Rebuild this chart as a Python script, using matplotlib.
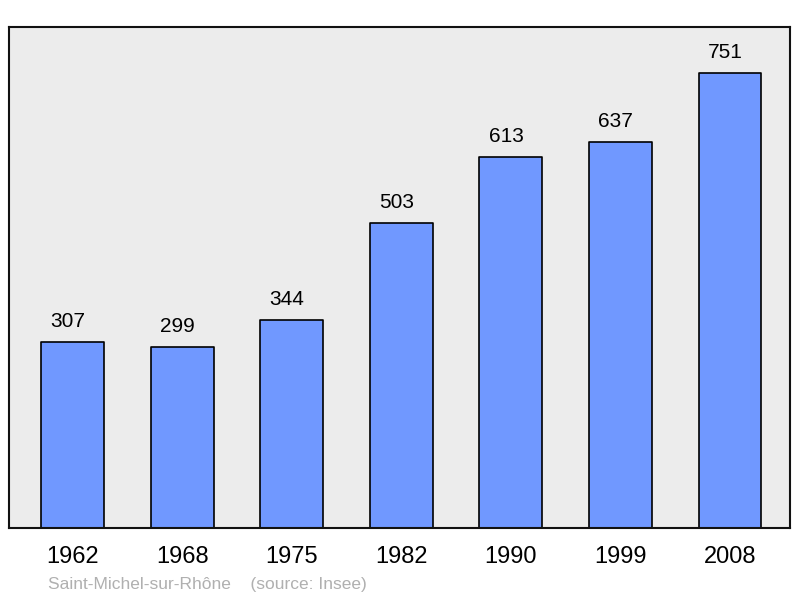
import matplotlib
matplotlib.use("Agg")
import matplotlib.pyplot as plt

years = ["1962", "1968", "1975", "1982", "1990", "1999", "2008"]
population = [307, 299, 344, 503, 613, 637, 751]

plt.rcParams['font.family'] = ['Liberation Sans', 'DejaVu Sans']

fig = plt.figure(figsize=(8, 5.98), dpi=100)
ax = fig.add_axes([9/800, 1-528/598, 781/800, 501/598])
ax.set_facecolor('#ececec')
x = list(range(len(years)))
bars = ax.bar(x, population, width=0.575, color='#7098ff', edgecolor='black', linewidth=1.2)
for b in bars:
    b.set_joinstyle('round')
for xi, v in zip(x, population):
    ax.text(xi - 0.045, v + 18, str(v), ha='center', va='bottom', fontsize=15)
ax.set_xlim(-0.584, 6.548)
ax.set_ylim(0, 827)
ax.set_yticks([])
ax.set_xticks(x)
ax.set_xticklabels(years, fontsize=17)
ax.tick_params(axis='x', length=0, pad=13)
for s in ax.spines.values():
    s.set_linewidth(1.5)
    s.set_color('#111111')
fig.text(48/800, 1-584/598, "Saint-Michel-sur-Rhône    (source: Insee)", fontsize=12.5, color='#b0b0b0', ha='left', va='center')
fig.savefig("out.png", dpi=100)
